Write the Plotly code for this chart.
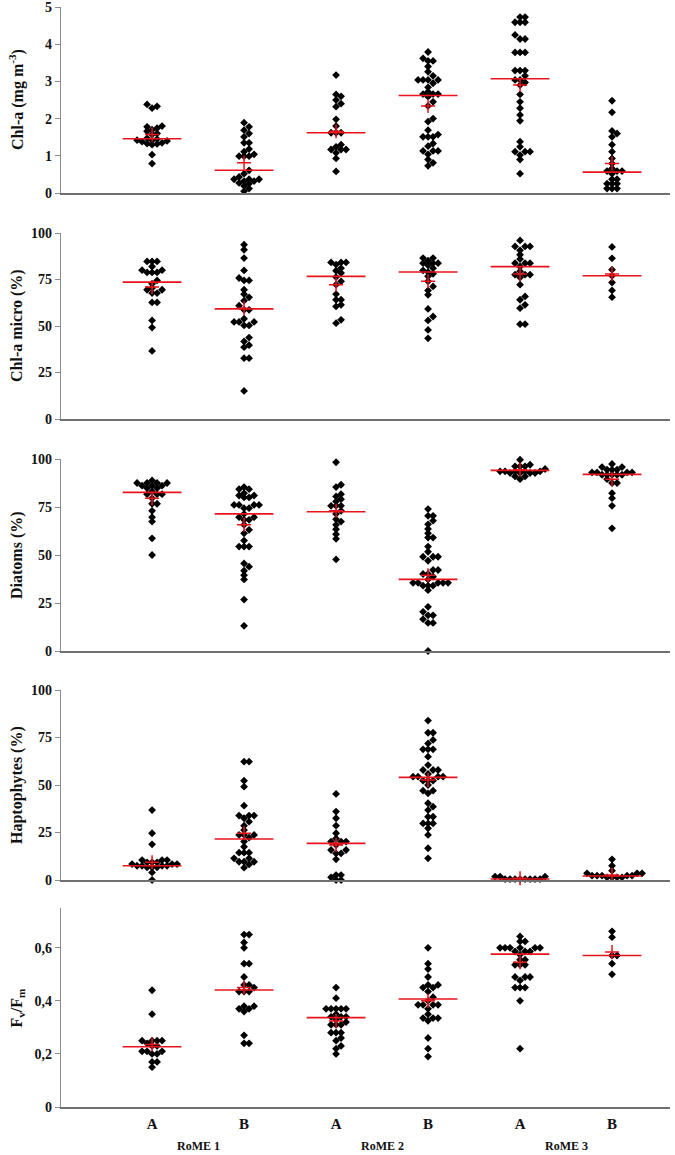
import plotly.graph_objects as go
from plotly.subplots import make_subplots

# ---------------- data ----------------
categories = ["A", "B", "A", "B", "A", "B"]
sites = ["RoME 1", "RoME 2", "RoME 3"]

panel_titles = ["Chl-a (mg m<sup>-3</sup>)", "Chl-a micro (%)", "Diatoms (%)",
                "Haptophytes (%)", "F<sub>v</sub>/F<sub>m</sub>"]

chla = [
    [2.38, 2.33, 2.28, 1.80, 1.78, 1.74, 1.70, 1.66, 1.60, 1.57, 1.47, 1.45, 1.42, 1.42, 1.40, 1.38, 1.35, 1.33, 1.32, 1.30, 1.03, 0.79],
    [1.89, 1.78, 1.69, 1.60, 1.51, 1.35, 1.35, 1.18, 1.11, 1.04, 0.99, 0.99, 0.99, 0.61, 0.52, 0.43, 0.37, 0.37, 0.37, 0.32, 0.32, 0.27, 0.25, 0.19, 0.12, 0.05],
    [3.17, 2.65, 2.60, 2.50, 2.40, 2.32, 1.98, 1.80, 1.62, 1.62, 1.62, 1.30, 1.24, 1.17, 1.17, 1.17, 1.08, 0.93, 0.58],
    [3.79, 3.62, 3.55, 3.55, 3.40, 3.26, 3.15, 3.04, 3.04, 3.04, 3.04, 2.95, 2.84, 2.72, 2.66, 2.66, 2.66, 2.59, 2.45, 2.34, 2.00, 1.92, 1.69, 1.57, 1.51, 1.51, 1.51, 1.33, 1.26, 1.13, 1.13, 1.13, 1.04, 0.90, 0.81, 0.73],
    [4.73, 4.73, 4.59, 4.59, 4.59, 4.25, 4.14, 4.14, 3.78, 3.78, 3.78, 3.29, 3.29, 3.29, 3.15, 3.04, 3.04, 2.97, 2.90, 2.65, 2.45, 2.28, 2.10, 1.94, 1.38, 1.24, 1.11, 1.11, 1.11, 1.02, 0.90, 0.52],
    [2.48, 2.17, 1.67, 1.60, 1.51, 1.30, 1.11, 0.93, 0.79, 0.66, 0.59, 0.59, 0.59, 0.52, 0.37, 0.37, 0.25, 0.25, 0.25, 0.12, 0.12, 0.12],
]
chla_median = [1.46, 0.61, 1.62, 2.62, 3.07, 0.56]
chla_mean = [1.57, 0.81, 1.66, 2.34, 2.90, 0.79]

micro = [
    [84.7, 84.7, 84.7, 82, 80, 80, 78.8, 78.8, 78.8, 74.5, 72.7, 70.4, 69.5, 69.5, 67.7, 67.7, 62.7, 62.7, 53, 49.2, 36.6],
    [93.7, 91, 86.5, 79.9, 75.8, 74.5, 74.5, 69.5, 67.1, 65.4, 63.6, 60.9, 58.7, 58.7, 53.9, 52.2, 52.2, 52.2, 50.3, 50.3, 43.8, 41.7, 39.7, 38.6, 32.7, 32.7, 15.1],
    [84.2, 84.2, 84.2, 83, 81.1, 79.7, 78.5, 76.3, 74, 72.2, 67.1, 64.1, 64.1, 61.4, 60.5, 53.3, 51.5],
    [86.5, 86.5, 85.1, 83.8, 83.8, 83.8, 82.6, 81.1, 79.9, 79, 78.1, 76.7, 74, 71.3, 69.1, 66.8, 59.2, 55.1, 53, 47.9, 43.4],
    [96, 92.8, 92.8, 92.8, 90.7, 88.3, 86, 83.8, 83.8, 83.8, 82, 79.4, 77.6, 77.6, 77.6, 76.1, 72.2, 65.9, 64.1, 61.4, 59.6, 51, 51],
    [92.5, 86.4, 80.3, 77, 73.4, 69.1, 65.5],
]
micro_median = [73.6, 59.2, 76.7, 79.0, 81.9, 77.0]
micro_mean = [71.0, 59.6, 72.2, 74.0, 78.0, 78.0]

diatoms = [
    [88.8, 87.5, 87.5, 87.5, 87.5, 86.1, 86.1, 86.1, 84.8, 84.8, 83.1, 81.7, 81.7, 81.7, 79.6, 76.7, 76.7, 73, 69.7, 67.4, 58.7, 50],
    [85.4, 84.3, 84.3, 82.2, 81, 81, 80, 80, 76.1, 76.1, 76.1, 76.1, 74.4, 74.4, 71.4, 69.7, 69.7, 68.3, 68.3, 65.7, 63.1, 61.3, 57.5, 54.4, 54.4, 54.4, 45.6, 43.9, 41.8, 39.5, 37.3, 26.8, 13.1],
    [98.3, 86.6, 85.4, 81.7, 80.5, 79.1, 77.9, 75.6, 75.6, 75.6, 73, 71.4, 68.6, 67.4, 65.7, 63.4, 60.8, 58.4, 47.7],
    [73.9, 70.4, 70.4, 67.9, 66, 63.6, 61.3, 59.1, 59.1, 54.4, 51.7, 49.1, 49.1, 49.1, 47, 42.2, 42.2, 40.1, 40.1, 38.7, 37.3, 35.5, 35.5, 35.5, 35.5, 35.5, 34.0, 34.0, 34.0, 31.7, 23, 20.4, 18.6, 18.6, 16.6, 14.6, 14.6, 0],
    [99.6, 97, 96.2, 96.2, 96.2, 94.8, 93.6, 93.6, 93.6, 93.6, 93.6, 92.7, 92.7, 92.7, 92.7, 90.9, 90.9, 89.5],
    [97.4, 95.8, 95.8, 94.4, 94.4, 94.4, 93, 93, 93, 93, 91.8, 91.8, 91.8, 91.8, 91.8, 89.5, 87.5, 87.5, 82.2, 79.6, 75.6, 63.9],
]
diatoms_median = [82.6, 71.4, 72.5, 37.3, 94.1, 92.0]
diatoms_mean = [79.6, 65.7, 73.0, 39.5, 94.4, 89.5]

hapto = [
    [36.8, 24.6, 18.8, 10.5, 10.5, 10.5, 9.3, 9.3, 9.3, 8.4, 8.4, 8.4, 7.5, 7.5, 7.5, 7.5, 6.7, 6.7, 6.7, 4, 0],
    [62.3, 62.3, 52.3, 49.1, 39.1, 33.9, 33.9, 33.9, 32.5, 30.7, 28.6, 26.3, 23.7, 23.7, 23.7, 22.3, 20.2, 17.5, 14.4, 14.4, 14.4, 11.4, 11.4, 9.6, 9.6, 9.6, 8.2, 6.5],
    [45.3, 36, 32.5, 28.6, 24.6, 21.9, 20.2, 20.2, 20.2, 18.4, 15.8, 15.8, 14, 14, 10.9, 2.6, 2.6, 1.4, 0, 0],
    [83.9, 77.5, 77.5, 73.7, 71.9, 68.8, 68.8, 68.8, 64.9, 60.5, 57.9, 57.9, 57.9, 55.8, 54.4, 54.4, 54.4, 54.4, 52.3, 52.3, 52.3, 50, 47, 47, 45.6, 40.4, 38.6, 36.8, 33.3, 33.3, 29.8, 29.8, 29.8, 27.2, 23.7, 16.7, 11.4],
    [1.8, 1.8, 1.8, 0.5, 0.5, 0.5, 0.5, 0.5, 0.5, 0.5, 0.5],
    [10.9, 7.5, 4.9, 3.5, 3.5, 3.5, 2.3, 2.3, 2.3, 2.3, 2.3, 1.4, 1.4, 1.4, 1.4],
]
hapto_median = [7.5, 21.6, 19.3, 54.0, 0.5, 2.1]
hapto_mean = [9.3, 24.6, 18.4, 52.6, 0.9, 2.6]

fvfm = [
    [0.44, 0.35, 0.25, 0.25, 0.25, 0.25, 0.24, 0.23, 0.23, 0.21, 0.21, 0.21, 0.20, 0.20, 0.17, 0.17, 0.15],
    [0.65, 0.65, 0.62, 0.60, 0.54, 0.54, 0.49, 0.46, 0.46, 0.45, 0.435, 0.435, 0.435, 0.38, 0.38, 0.37, 0.37, 0.36, 0.27, 0.24, 0.24],
    [0.45, 0.41, 0.37, 0.37, 0.37, 0.37, 0.37, 0.35, 0.34, 0.34, 0.34, 0.33, 0.32, 0.31, 0.31, 0.31, 0.28, 0.28, 0.28, 0.26, 0.25, 0.23, 0.22, 0.20],
    [0.60, 0.54, 0.52, 0.49, 0.46, 0.46, 0.45, 0.45, 0.435, 0.414, 0.40, 0.385, 0.385, 0.385, 0.385, 0.37, 0.35, 0.335, 0.335, 0.335, 0.325, 0.26, 0.22, 0.19],
    [0.643, 0.624, 0.624, 0.60, 0.60, 0.60, 0.60, 0.60, 0.60, 0.586, 0.586, 0.586, 0.574, 0.555, 0.555, 0.536, 0.536, 0.536, 0.49, 0.49, 0.49, 0.477, 0.45, 0.45, 0.45, 0.40, 0.22],
    [0.662, 0.64, 0.571, 0.571, 0.54, 0.50],
]
fvfm_median = [0.227, 0.441, 0.337, 0.407, 0.576, 0.571]
fvfm_mean = [0.236, 0.45, 0.324, 0.40, 0.546, 0.584]

y_ticks_chla = [0, 1, 2, 3, 4, 5]
y_ticks_pct = [0, 25, 50, 75, 100]
y_ticks_fvfm = [0, 0.2, 0.4, 0.6]
y_ticktext_fvfm = ["0", "0,2", "0,4", "0,6"]

panels = [
    (chla, chla_median, chla_mean, [0, 5], y_ticks_chla, [str(v) for v in y_ticks_chla]),
    (micro, micro_median, micro_mean, [0, 100], y_ticks_pct, [str(v) for v in y_ticks_pct]),
    (diatoms, diatoms_median, diatoms_mean, [0, 100], y_ticks_pct, [str(v) for v in y_ticks_pct]),
    (hapto, hapto_median, hapto_mean, [0, 100], y_ticks_pct, [str(v) for v in y_ticks_pct]),
    (fvfm, fvfm_median, fvfm_mean, [0, 0.75], y_ticks_fvfm, y_ticktext_fvfm),
]

# ---------------- layout geometry ----------------
W, H = 675, 1155
ML, MR, MT, MB = 61, 5, 7, 48
domains_px = [(7, 193), (233, 419), (459, 651), (690, 880), (908, 1107)]  # page pixels
XRANGE = [-0.99, 5.63]
PLOT_H = H - MT - MB
PLOT_W = W - ML - MR
x_px_per_unit = PLOT_W / (XRANGE[1] - XRANGE[0])

SERIF = "Liberation Serif, Times New Roman, serif"
RED = "#e8141c"


def swarm_offsets(values, y_px_per_unit, diam=4.2, step=5.0):
    """Simple beeswarm: horizontal offsets (in category units) avoiding overlap."""
    order = sorted(range(len(values)), key=lambda i: values[i])
    placed = []
    offs = [0.0] * len(values)
    for i in order:
        ypx = values[i] * y_px_per_unit
        k = 0
        while True:
            cands = [0.0] if k == 0 else [k * step, -k * step]
            ok = None
            for c in cands:
                if all((c - px) ** 2 + (ypx - py) ** 2 >= diam ** 2 for px, py in placed):
                    ok = c
                    break
            if ok is not None:
                placed.append((ok, ypx))
                offs[i] = ok / x_px_per_unit
                break
            k += 1
    return offs


fig = make_subplots(rows=5, cols=1, shared_xaxes=False, vertical_spacing=0.02)

for r, (vals, med, mean, yr, ytv, ytt) in enumerate(panels, start=1):
    top, bot = domains_px[r - 1]
    y_px_per_unit = (bot - top) / (yr[1] - yr[0])
    xs, ys = [], []
    for g, gvals in enumerate(vals):
        offs = swarm_offsets(gvals, y_px_per_unit)
        xs += [g + o for o in offs]
        ys += gvals
    fig.add_trace(go.Scatter(
        x=xs, y=ys, mode="markers",
        marker=dict(symbol="diamond", size=6, color="black", line=dict(width=0)),
        showlegend=False, hoverinfo="y", cliponaxis=False), row=r, col=1)
    fig.add_trace(go.Scatter(
        x=list(range(len(categories))), y=med, mode="markers",
        marker=dict(symbol="line-ew", size=42, color=RED,
                    line=dict(width=1.6, color=RED)),
        showlegend=False, hoverinfo="y", cliponaxis=False), row=r, col=1)
    fig.add_trace(go.Scatter(
        x=list(range(len(categories))), y=mean, mode="markers",
        marker=dict(symbol="cross-thin", size=10, color=RED,
                    line=dict(width=1.5, color=RED)),
        showlegend=False, hoverinfo="y", cliponaxis=False), row=r, col=1)

    ydom = [1 - (bot - MT) / PLOT_H, 1 - (top - MT) / PLOT_H]
    ydom = [max(0.0, ydom[0]), min(1.0, ydom[1])]
    ya = "yaxis" if r == 1 else f"yaxis{r}"
    xa = "xaxis" if r == 1 else f"xaxis{r}"
    fig.layout[ya].update(
        domain=ydom, range=yr, tickvals=ytv, ticktext=ytt, automargin=False,
        ticklabeloverflow="allow",
        showgrid=False, zeroline=False, showline=True, linecolor="#8c8c8c", linewidth=1.3,
        ticks="outside", ticklen=5, tickcolor="#8c8c8c", tickwidth=1.3,
        tickfont=dict(family=SERIF, size=14, color="#111", weight="bold"))
    fig.layout[xa].update(
        domain=[0, 1], range=XRANGE, showgrid=False, zeroline=False, showline=True,
        linecolor="#707070", linewidth=1.5, ticks="", automargin=False,
        tickvals=list(range(len(categories))),
        ticktext=categories if r == 5 else [""] * len(categories),
        showticklabels=(r == 5), ticklabelstandoff=2,
        tickfont=dict(family=SERIF, size=15, color="#111", weight="bold"))

    yref = "y domain" if r == 1 else f"y{r} domain"
    fig.add_annotation(
        text=panel_titles[r - 1], textangle=-90,
        xref="paper", x=0, xshift=-44, xanchor="center",
        yref=yref, y=0.5, yanchor="middle", showarrow=False,
        font=dict(family=SERIF, size=16, color="#111", weight="bold"))

for s, name in enumerate(sites):
    fig.add_annotation(
        text=name, xref="x5", x=2 * s + 0.5, yref="paper", y=0,
        yshift=-39, yanchor="middle", showarrow=False,
        font=dict(family=SERIF, size=12, color="#111", weight="bold"))

fig.update_layout(
    width=W, height=H, margin=dict(l=ML, r=MR, t=MT, b=MB, autoexpand=False),
    plot_bgcolor="white", paper_bgcolor="white",
    font=dict(family=SERIF, size=14, color="#111"), showlegend=False)

# remove the default 8px page margin so the figure fills the 675x1155 window
fig.write_html("out.html", config={"displayModeBar": False},
               post_script="document.body.style.margin='0px';document.body.style.overflow='hidden';")
